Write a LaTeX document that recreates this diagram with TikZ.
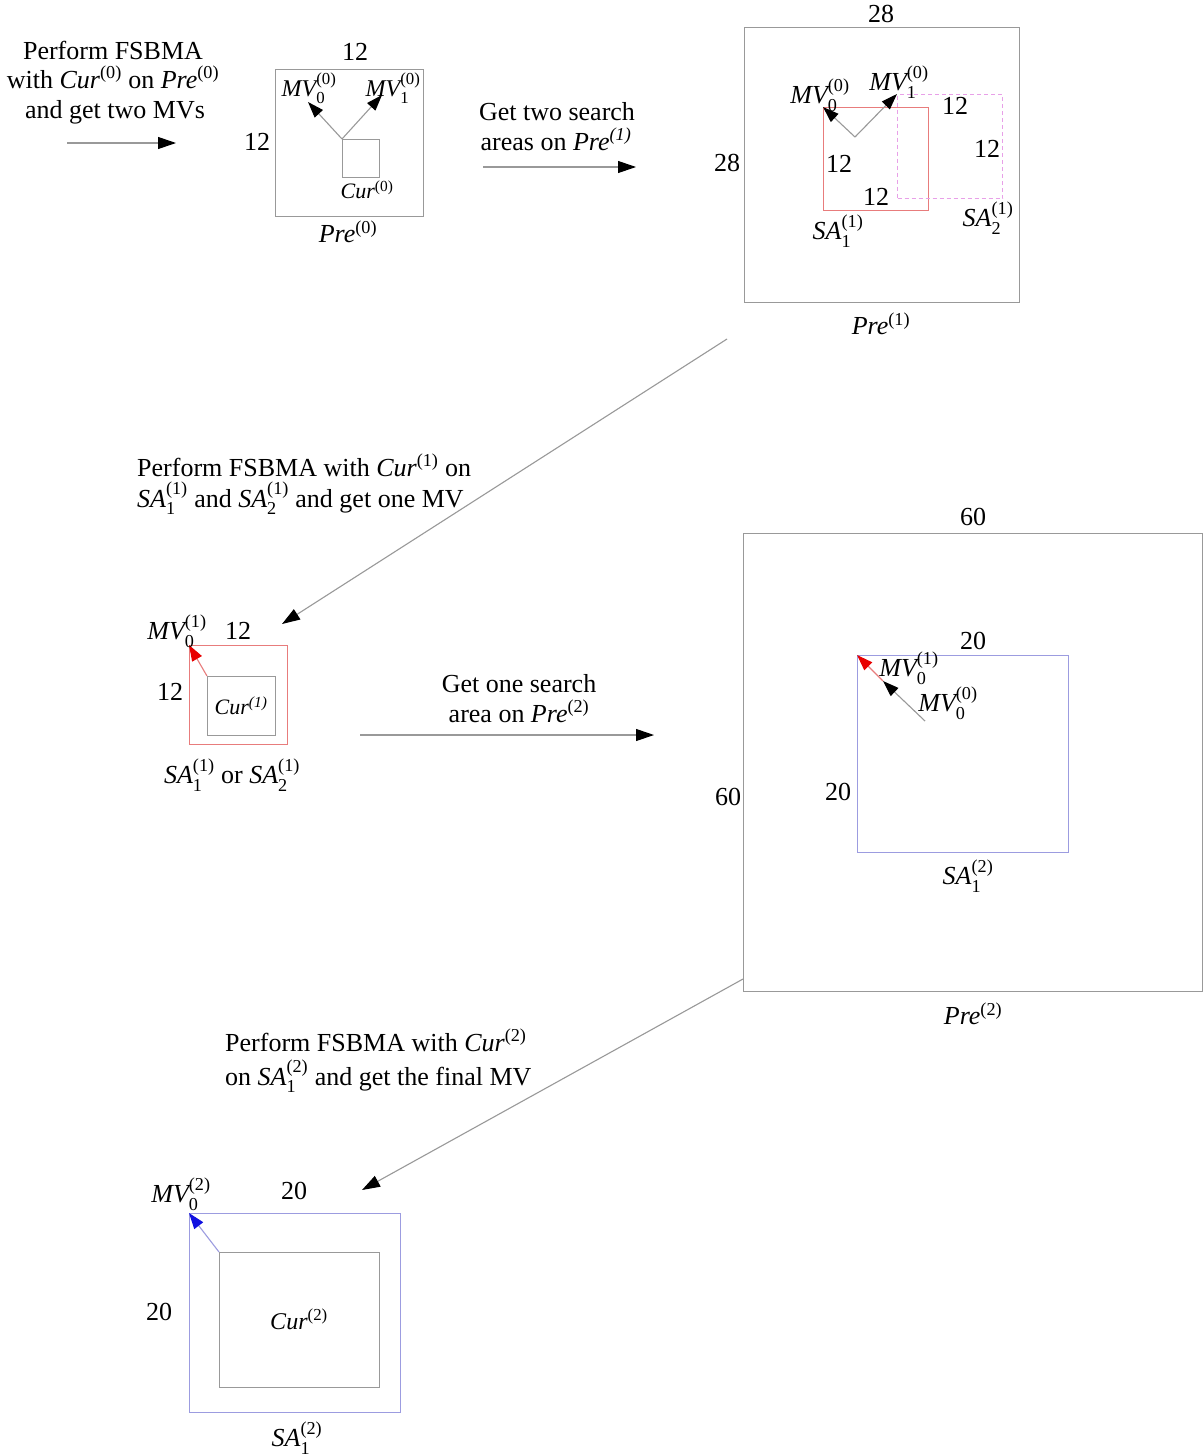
\documentclass[tikz,border=0pt]{standalone}
\usepackage{fontspec}
\setmainfont{Liberation Serif}
\usepackage{amsmath}
\usetikzlibrary{arrows.meta}
\definecolor{gl}{HTML}{999999}
\definecolor{sared}{HTML}{E87C7C}
\definecolor{samag}{HTML}{E8A0E8}
\definecolor{sablue}{HTML}{9C9CE0}
\definecolor{tipred}{HTML}{E80000}
\definecolor{tipblue}{HTML}{1010E0}
\newcommand\vb[3]{$\text{\itshape #1}_{\text{#2}}^{\text{#3}}$}
\newcommand\vs[2]{\textit{#1}$^{\text{#2}}$}
\newcommand\vi[2]{\textit{#1}$^{\text{\itshape #2}}$}
\tikzset{
  box/.style={draw=gl, line width=1.4pt, inner sep=0pt, anchor=north west},
  flow/.style={draw=gl, line width=1.1pt, -{Triangle[length=18pt,width=12pt,color=black]}},
  mvk/.style={draw=gl, line width=1.1pt, -{Triangle[length=16pt,width=11pt,color=black]}},
  lb/.style={inner sep=0pt},
  ln/.style={inner sep=0pt, anchor=base},
  sm/.style={font=\fontsize{22}{26}\selectfont},
  md/.style={font=\fontsize{24}{28}\selectfont},
}
\begin{document}
\begin{tikzpicture}[x=1pt,y=-1pt,font=\fontsize{26}{31}\selectfont]
\useasboundingbox[fill=white] (0,0) rectangle (1203,1456);

% ---------- stage 0 ----------
\node[ln] (t1a) at (113,59) {Perform FSBMA};
\node[ln] (t1b) at (113,88) {with \vs{Cur}{(0)} on \vs{Pre}{(0)}};
\node[ln] (t1c) at (115,118) {and get two MVs};
\coordinate (a1s) at (67,143);
\coordinate (a1e) at (176,143);
\draw[flow] (a1s) -- (a1e);

\node[box, minimum width=148pt, minimum height=147pt] (pre0) at (275,69) {};
\node[box, minimum width=37pt, minimum height=38pt] (cur0) at (342,139) {};
\coordinate (mv00) at (308,102);
\coordinate (mv01) at (382,95);
\draw[mvk] (cur0.north west) -- (mv00);
\draw[mvk] (cur0.north west) -- (mv01);
\node[lb] (l0t) at (355,52) {12};
\node[lb] (l0l) at (257,142) {12};
\node[lb,md] (l0m0) at (309,88) {\vb{MV}{0}{(0)}};
\node[lb,md] (l0m1) at (393,88) {\vb{MV}{1}{(0)}};
\node[lb,sm] (l0c) at (367,190) {\vs{Cur}{(0)}};
\node[lb] (l0p) at (348,232) {\vs{Pre}{(0)}};

% ---------- arrow to stage 1 ----------
\node[ln] (t2a) at (557,120) {Get two search};
\node[ln] (t2b) at (556,150) {areas on \vi{Pre}{(1)}};
\coordinate (a2s) at (483,167);
\coordinate (a2e) at (636,167);
\draw[flow] (a2s) -- (a2e);

% ---------- stage 1 ----------
\node[box, minimum width=275pt, minimum height=275pt] (pre1) at (744,27) {};
\node[box, draw=sared, minimum width=105pt, minimum height=103pt] (sa11) at (823,107) {};
\node[box, draw=samag, dash pattern=on 4pt off 3pt, minimum width=105pt, minimum height=104pt] (sa21) at (897,94) {};
\coordinate (v1) at (855,137);
\draw[mvk] (v1) -- (sa11.north west);
\draw[mvk] (v1) -- (sa21.north west);
\node[lb] (l1t) at (881,14) {28};
\node[lb] (l1l) at (727,163) {28};
\node[lb] (l1a) at (955,106) {12};
\node[lb] (l1b) at (987,149) {12};
\node[lb] (l1c) at (839,164) {12};
\node[lb] (l1d) at (876,197) {12};
\node[lb] (l1m0) at (820,95) {\vb{MV}{0}{(0)}};
\node[lb] (l1m1) at (899,82) {\vb{MV}{1}{(0)}};
\node[lb] (l1s1) at (838,231) {\vb{SA}{1}{(1)}};
\node[lb] (l1s2) at (988,218) {\vb{SA}{2}{(1)}};
\node[lb] (l1p) at (881,324) {\vs{Pre}{(1)}};

% ---------- diagonal 1 ----------
\coordinate (d1s) at (727,339);
\coordinate (d1e) at (282,624);
\draw[flow] (d1s) -- (d1e);
\node[ln, anchor=base west] (t3a) at (137,476) {Perform FSBMA with \vs{Cur}{(1)} on};
\node[ln, anchor=base west] (t3b) at (137,507) {\vb{SA}{1}{(1)} and \vb{SA}{2}{(1)} and get one MV};

% ---------- stage 1 result ----------
\node[box, draw=sared, minimum width=98pt, minimum height=99pt] (sa1) at (189,645) {};
\node[box, minimum width=68pt, minimum height=59pt] (cur1) at (207,676) {};
\draw[draw=sared, line width=1.1pt, -{Triangle[length=16pt,width=11pt,color=tipred]}] (cur1.north west) -- (sa1.north west);
\node[lb] (l2m) at (177,631) {\vb{MV}{0}{(1)}};
\node[lb] (l2t) at (238,631) {12};
\node[lb] (l2l) at (170,692) {12};
\node[lb,sm] (l2c) at (241,706) {\vi{Cur}{(1)}};
\node[lb] (l2s) at (232,775) {\vb{SA}{1}{(1)} or \vb{SA}{2}{(1)}};

% ---------- arrow to stage 2 ----------
\node[ln] (t4a) at (519,692) {Get one search};
\node[ln] (t4b) at (519,722) {area on \vs{Pre}{(2)}};
\coordinate (a3s) at (360,735);
\coordinate (a3e) at (654,735);
\draw[flow] (a3s) -- (a3e);

% ---------- stage 2 ----------
\node[box, minimum width=459pt, minimum height=458pt] (pre2) at (743,533) {};
\node[box, draw=sablue, minimum width=211pt, minimum height=197pt] (sa2) at (857,655) {};
\coordinate (v2) at (925,721);
\coordinate (v2m) at (883,681);
\draw[mvk] (v2) -- (v2m);
\draw[draw=sared, line width=1.1pt, -{Triangle[length=16pt,width=11pt,color=tipred]}] (v2m) -- (sa2.north west);
\node[lb] (l3t) at (973,517) {60};
\node[lb] (l3l) at (728,797) {60};
\node[lb] (l3a) at (973,641) {20};
\node[lb] (l3b) at (838,792) {20};
\node[lb] (l3m1) at (909,668) {\vb{MV}{0}{(1)}};
\node[lb] (l3m0) at (948,703) {\vb{MV}{0}{(0)}};
\node[lb] (l3s) at (968,876) {\vb{SA}{1}{(2)}};
\node[lb] (l3p) at (973,1014) {\vs{Pre}{(2)}};

% ---------- diagonal 2 ----------
\coordinate (d2s) at (743,979);
\coordinate (d2e) at (362,1190);
\draw[flow] (d2s) -- (d2e);
\node[ln, anchor=base west] (t5a) at (225,1051) {Perform FSBMA with \vs{Cur}{(2)}};
\node[ln, anchor=base west] (t5b) at (225,1085) {on \vb{SA}{1}{(2)} and get the final MV};

% ---------- final ----------
\node[box, draw=sablue, minimum width=211pt, minimum height=199pt] (sa2f) at (189,1213) {};
\node[box, minimum width=160pt, minimum height=135pt] (cur2) at (219,1252) {};
\draw[draw=sablue, line width=1.1pt, -{Triangle[length=16pt,width=11pt,color=tipblue]}] (cur2.north west) -- (sa2f.north west);
\node[lb] (l4m) at (181,1194) {\vb{MV}{0}{(2)}};
\node[lb] (l4t) at (294,1191) {20};
\node[lb] (l4l) at (159,1312) {20};
\node[lb,md] (l4c) at (299,1319) {\vs{Cur}{(2)}};
\node[lb] (l4s) at (297,1438) {\vb{SA}{1}{(2)}};
\end{tikzpicture}
\end{document}
